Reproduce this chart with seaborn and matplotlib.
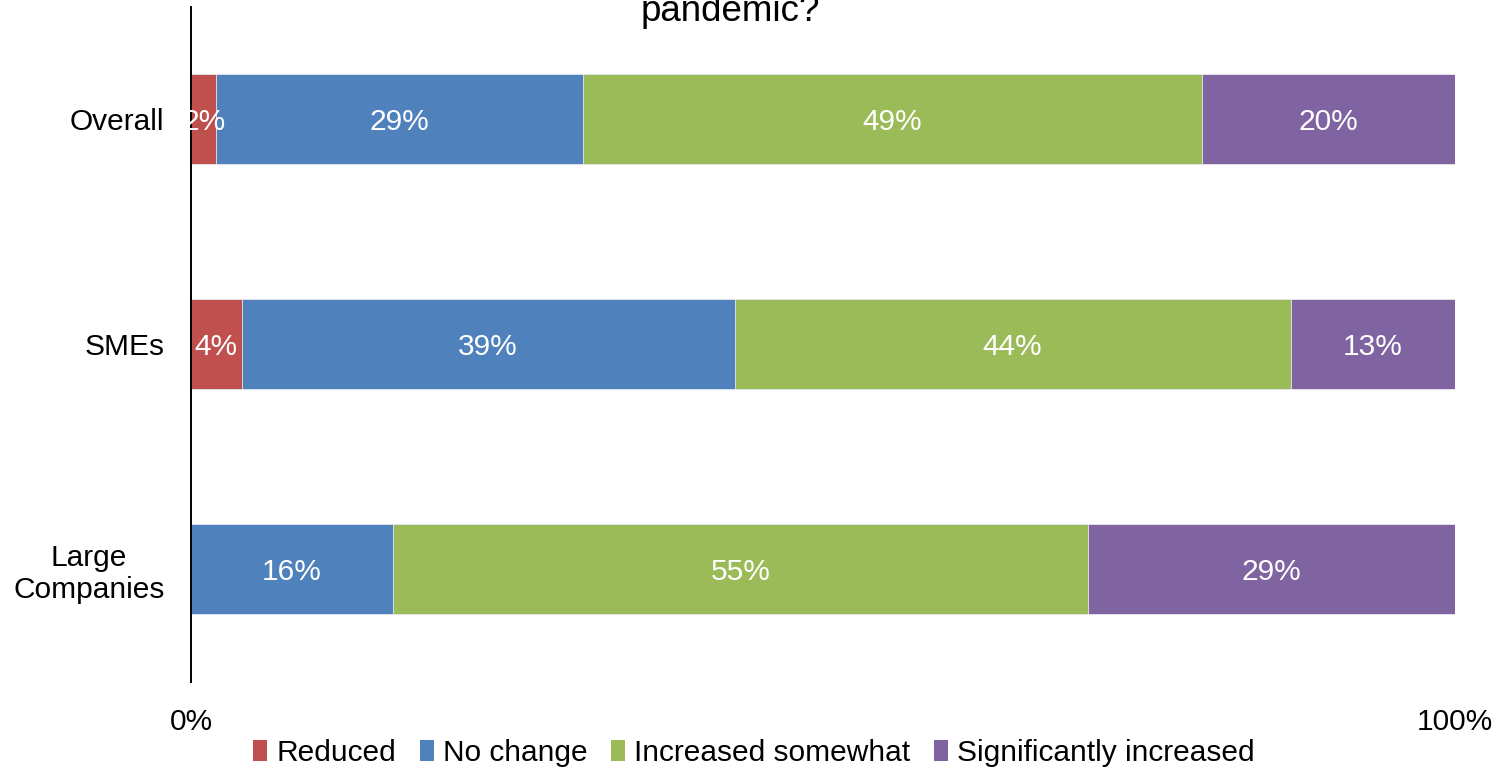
import numpy as np
import pandas as pd
import matplotlib
matplotlib.use("Agg")
import matplotlib.pyplot as plt
import seaborn as sns
from matplotlib.patches import Patch

# Survey responses (% of respondents) per company group
groups = ["Overall", "SMEs", "Large\nCompanies"]
reduced = [2, 4, 0]
no_change = [29, 39, 16]
increased_somewhat = [49, 44, 55]
significantly_increased = [20, 13, 29]

series_names = ["Reduced", "No change", "Increased somewhat", "Significantly increased"]
series_values = [reduced, no_change, increased_somewhat, significantly_increased]
series_colors = ["#C0504D", "#4F81BD", "#9BBB59", "#8064A2"]

xtick_values = [0, 100]
xtick_labels = ["0%", "100%"]

sns.set_theme(style="white")
plt.rcParams["font.family"] = ["Liberation Sans", "DejaVu Sans"]
plt.rcParams["text.color"] = "black"
plt.rcParams["xtick.color"] = "black"
plt.rcParams["ytick.color"] = "black"

FS = 21.5

fig = plt.figure(figsize=(15.08, 7.68), dpi=100)
W, H = 1508, 768
ax = fig.add_axes([191 / W, 1 - 681.5 / H, (1455 - 191) / W, (681.5 - 6.5) / H])

vals = np.array(series_values, dtype=float)
cum = np.cumsum(vals, axis=0)

# Stack by drawing cumulative totals from the back to the front
for i in range(len(series_names) - 1, -1, -1):
    df = pd.DataFrame({"group": groups, "total": cum[i]})
    sns.barplot(data=df, x="total", y="group", order=groups, orient="h",
                color=series_colors[i], saturation=1, width=0.4,
                edgecolor="#E8E8F0", linewidth=0.6, ax=ax)

# Segment value labels
for i in range(len(series_names)):
    for j in range(len(groups)):
        v = vals[i, j]
        if v <= 0:
            continue
        ax.text(cum[i, j] - v / 2, j, f"{v:.0f}%", ha="center", va="center_baseline",
                color="white", fontsize=FS)

ax.set_xlim(0, 100)
ax.set_ylim(2.5, -0.5)
ax.set_xlabel("")
ax.set_ylabel("")
ax.set_xticks(xtick_values)
ax.set_xticklabels(xtick_labels, fontsize=FS)
ax.tick_params(axis="x", length=0, pad=19)
ax.tick_params(axis="y", length=0, pad=19, labelsize=FS)
for lab in ax.get_yticklabels():
    lab.set_multialignment("center")

for side in ["top", "right", "bottom"]:
    ax.spines[side].set_visible(False)
ax.spines["left"].set_color("black")
ax.spines["left"].set_linewidth(1.4)

handles = [Patch(facecolor=c, edgecolor="none") for c in series_colors]
fig.legend(handles, series_names, loc="center", bbox_to_anchor=(754 / W, 1 - 753 / H),
           ncol=4, frameon=False, fontsize=FS, handlelength=0.47, handleheight=0.7,
           handletextpad=0.3, columnspacing=0.8, borderpad=0, borderaxespad=0)

fig.text(730 / W, 1 - 21 / H, "pandemic?", ha="center", va="baseline",
         fontsize=26.5, color="black")

fig.savefig("out.png", dpi=100)
